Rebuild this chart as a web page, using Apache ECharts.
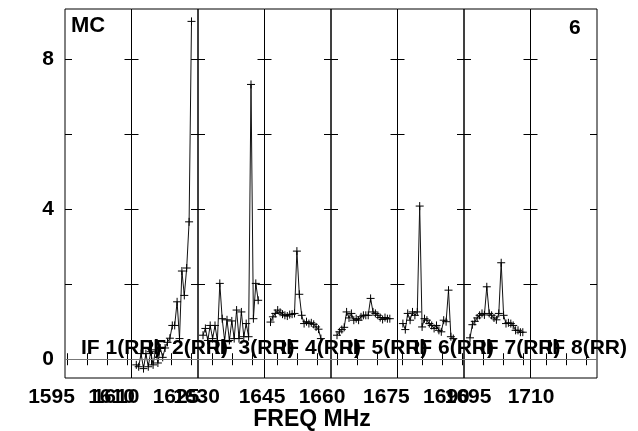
<!DOCTYPE html>
<html><head><meta charset="utf-8">
<script src="https://cdn.jsdelivr.net/npm/echarts@6/dist/echarts.min.js"></script>
<style>html,body{margin:0;padding:0;background:#fff}#c{width:638px;height:431px}</style>
</head><body><div id="c"></div>
<script>
// ---- data ----
const ifNames = ['IF 1(RR)','IF 2(RR)','IF 3(RR)','IF 4(RR)','IF 5(RR)','IF 6(RR)','IF 7(RR)','IF 8(RR)'];
const panelStartMHz = [1599.5, 1615, 1631.5, 1646.75, 1663.5, 1678.9, 1695.1, 1711];
const panelSpanMHz = 16.625;
const chanWidthMHz = 0.6;
const firstChanMHz = [1600.8, 1616.2, 1632.75, 1648.25, 1665.0, 1680.25, 1696.6, 1712.3];
const tickFreqs = [[1600,1605,1610,1615],[1620,1625,1630],[1635,1640,1645],[1650,1655,1660],[1665,1670,1675],[1680,1685,1690,1695],[1700,1705,1710],[1715,1720,1725]];
const tickLabels = [[1595,1610],[1610,1625],[1630],[1645,1660],[],[1675,1690],[1695],[1710]];
const yTicks = [0,2,4,6,8];
const yLabels = [0,4,8];
const if1 = [];
const if2 = [-0.15,-0.2,0.15,-0.25,0.15,-0.2,0.2,-0.15,0.25,-0.1,0.3,0.05,0.3,0.45,0.56,0.9,0.9,1.53,0.55,2.35,1.7,2.43,3.66,9.0];
const if3 = [0.64,0.82,0.5,0.9,0.55,0.9,0.5,2.02,1.08,0.5,1.05,0.5,1.02,0.55,1.31,0.55,1.26,0.6,0.95,0.6,7.32,1.08,2.02,1.57];
const if4 = [0.99,1.13,1.22,1.31,1.25,1.2,1.17,1.15,1.19,1.2,1.22,2.88,1.73,1.17,0.95,1.0,0.95,0.97,0.93,0.86,0.8,0.55];
const if5 = [0.64,0.73,0.79,0.85,1.26,1.1,1.22,1.04,1.08,1.04,1.13,1.17,1.17,1.17,1.62,1.26,1.22,1.17,1.11,1.06,1.11,1.08,1.08];
const if6 = [0.95,0.79,1.22,1.04,1.26,1.17,1.26,4.08,0.86,1.08,1.04,0.95,0.9,0.82,0.9,0.77,0.73,1.04,1.0,1.84,0.6,0.55];
const if7 = [0.57,0.92,1.01,1.1,1.17,1.22,1.18,1.93,1.22,1.17,1.1,1.05,1.22,2.57,1.17,0.95,0.97,0.95,0.9,0.77,0.77,0.72,0.72];
const if8 = [];
const ifValues = [if1,if2,if3,if4,if5,if6,if7,if8];

// ---- layout ----
const FONT = "'Liberation Sans', Arial, Helvetica, sans-serif";
const gLeft = 65, gTop = 9, gW = 66.5, gH = 369;
const yMin = -0.5, yMax = 9.33;

const grids = [], xAxes = [], yAxes = [], series = [];
const N = 8;
for (let k = 0; k < N; k++) {
  grids.push({left: gLeft + k*gW, top: gTop, width: gW, height: gH, show: true, borderColor: '#000', borderWidth: 1, backgroundColor: 'transparent'});
}
for (let k = 0; k < N; k++) {
  grids.push({left: gLeft + k*gW - 40, top: gTop, width: gW + 80, height: gH, show: false});
}
const tickStyle = {color: '#000', width: 1};
for (let k = 0; k < N; k++) {
  const L = panelStartMHz[k];
  xAxes.push({gridIndex: k, type: 'value', min: L, max: L + panelSpanMHz, position: 'bottom',
    axisLine: {show: false}, axisLabel: {show: false}, splitLine: {show: false},
    axisTick: {show: true, inside: true, length: 6, customValues: tickFreqs[k], lineStyle: tickStyle}});
}
for (let k = 0; k < N; k++) {
  const L = panelStartMHz[k];
  xAxes.push({gridIndex: k, type: 'value', min: L, max: L + panelSpanMHz, position: 'top',
    axisLine: {show: false}, axisLabel: {show: false}, splitLine: {show: false},
    axisTick: {show: true, inside: true, length: 6, customValues: tickFreqs[k], lineStyle: tickStyle}});
}
for (let k = 0; k < N; k++) {
  const L = panelStartMHz[k];
  xAxes.push({gridIndex: N + k, type: 'value', min: L - 10, max: L + panelSpanMHz + 10, position: 'bottom',
    axisLine: {show: false}, axisTick: {show: false}, splitLine: {show: false},
    axisLabel: {show: tickLabels[k].length > 0, customValues: tickLabels[k], margin: 9, fontSize: 21, fontWeight: 'bold',
      fontFamily: FONT, color: '#000', padding: [0,0,0,9], hideOverlap: false,
      formatter: v => String(v)}});
}
for (let k = 0; k < N; k++) {
  yAxes.push({gridIndex: k, type: 'value', min: yMin, max: yMax, position: 'left',
    axisLine: {show: false}, splitLine: {show: false},
    axisTick: {show: true, inside: true, length: 7, customValues: yTicks, lineStyle: tickStyle},
    axisLabel: {show: k === 0, customValues: yLabels, margin: 11, fontSize: 21, fontWeight: 'bold', fontFamily: FONT, color: '#000',
      formatter: v => String(v)}});
}
for (let k = 0; k < N; k++) {
  yAxes.push({gridIndex: k, type: 'value', min: yMin, max: yMax, position: 'right',
    axisLine: {show: false}, splitLine: {show: false}, axisLabel: {show: false},
    axisTick: {show: true, inside: true, length: 7, customValues: yTicks, lineStyle: tickStyle}});
}
for (let k = 0; k < N; k++) {
  yAxes.push({gridIndex: N + k, type: 'value', min: yMin, max: yMax, show: false});
}

const plusPath = 'path://M0,5L10,5M5,0L5,10';
for (let k = 0; k < N; k++) {
  const vals = ifValues[k];
  const data = vals.map((v, i) => [firstChanMHz[k] + i*chanWidthMHz, v]);
  series.push({type: 'line', xAxisIndex: k, yAxisIndex: k, data: data,
    symbol: plusPath, symbolSize: 8, showSymbol: true,
    itemStyle: {color: '#000', borderColor: '#000', borderWidth: 1},
    lineStyle: {color: '#111', width: 1}, animation: false, silent: true,
    markLine: {silent: true, symbol: 'none', label: {show: false}, animation: false,
      lineStyle: {color: '#777', type: 'solid', width: 1}, data: [{yAxis: 0}]}});
}

const graphics = [];
for (let k = 0; k < N; k++) {
  graphics.push({type: 'text', left: gLeft + 16 + k*gW, top: 338, z: 50, silent: true,
    style: {text: ifNames[k], font: "bold 21px " + FONT, fill: '#000'}});
}
graphics.push({type: 'text', left: 71, top: 15, style: {text: 'MC', font: 'bold 22px ' + FONT, fill: '#000'}});
graphics.push({type: 'text', left: 569, top: 18, style: {text: '6', font: 'bold 21px ' + FONT, fill: '#000'}});
graphics.push({type: 'text', x: 312, y: 408, style: {text: 'FREQ MHz', font: 'bold 23px ' + FONT, fill: '#000', align: 'center', verticalAlign: 'top'}});

const chart = echarts.init(document.getElementById('c'), null, {renderer: 'canvas'});
chart.setOption({backgroundColor: '#fff', animation: false, grid: grids, xAxis: xAxes, yAxis: yAxes, series: series, graphic: graphics});
</script></body></html>
